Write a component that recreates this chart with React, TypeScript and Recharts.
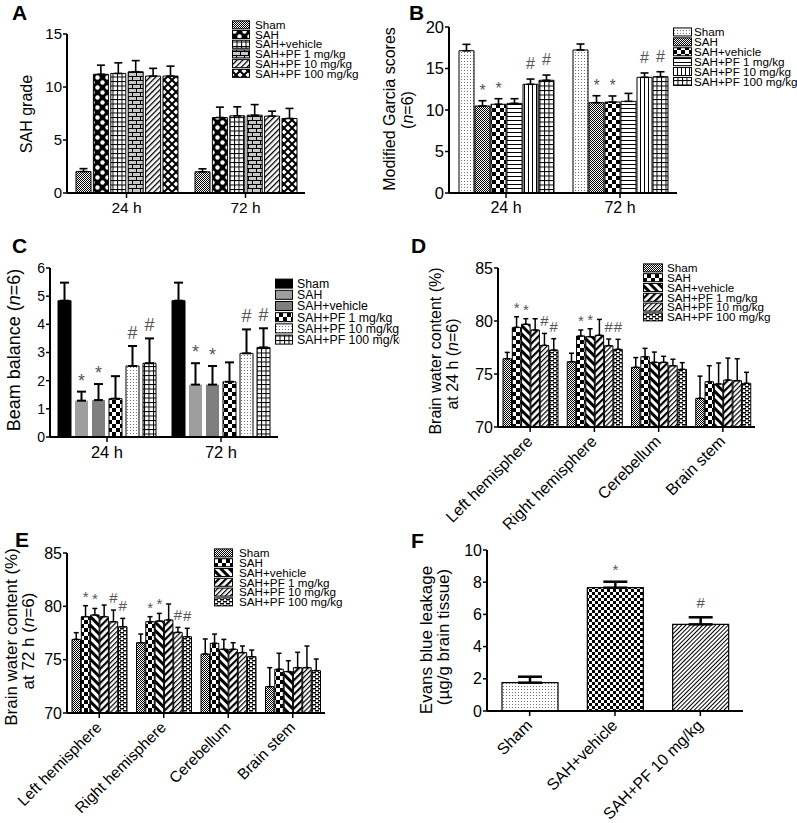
import React from 'react';
import { BarChart, Bar, XAxis, YAxis, ErrorBar, LabelList, Legend, Cell } from 'recharts';

const FONT = '"Liberation Sans", Arial, Helvetica, sans-serif';

// ---------- data ----------
const groupNames = ['Sham', 'SAH', 'SAH+vehicle', 'SAH+PF 1 mg/kg', 'SAH+PF 10 mg/kg', 'SAH+PF 100 mg/kg'];
const timeCats = ['24 h', '72 h'];
const regionCats = ['Left hemisphere', 'Right hemisphere', 'Cerebellum', 'Brain stem'];

const aTicks = [0, 5, 10, 15];
const aMean = [
  [2.02, 11.2, 11.28, 11.44, 11.03, 11.03],
  [2.0, 7.12, 7.28, 7.34, 7.25, 7.03],
];
const aErr = [
  [0.28, 0.86, 1.0, 1.05, 0.73, 0.94],
  [0.28, 0.98, 0.85, 1.0, 0.47, 0.95],
];

const bTicks = [0, 5, 10, 15, 20];
const bMean = [
  [17.14, 10.48, 10.69, 10.8, 13.1, 13.58],
  [17.23, 10.88, 10.96, 11.04, 13.94, 14.01],
];
const bErr = [
  [0.77, 0.64, 0.67, 0.56, 0.63, 0.63],
  [0.72, 0.84, 0.73, 0.96, 0.52, 0.6],
];
const bSig = [
  ['', '*', '*', '', '#', '#'],
  ['', '*', '*', '', '#', '#'],
];

const cTicks = [0, 1, 2, 3, 4, 5, 6];
const cMean = [
  [4.84, 1.29, 1.31, 1.36, 2.52, 2.62],
  [4.84, 1.86, 1.86, 1.96, 2.97, 3.18],
];
const cErr = [
  [0.64, 0.32, 0.57, 0.8, 0.71, 0.88],
  [0.64, 0.76, 0.66, 0.69, 0.85, 0.68],
];
const cSig = [
  ['', '*', '*', '', '#', '#'],
  ['', '*', '*', '', '#', '#'],
];

const wTicks = [70, 75, 80, 85];
const dMean = [
  [76.44, 79.4, 79.69, 79.15, 77.7, 77.26],
  [76.16, 78.58, 78.52, 78.65, 77.67, 77.33],
  [75.63, 76.63, 76.1, 76.1, 75.78, 75.44],
  [72.7, 74.27, 74.06, 74.43, 74.37, 74.12],
];
const dErr = [
  [0.6, 1.0, 0.53, 1.06, 1.13, 1.07],
  [0.8, 0.57, 0.75, 1.5, 0.63, 0.94],
  [0.92, 0.79, 0.97, 0.57, 0.61, 0.63],
  [2.1, 1.51, 1.98, 2.07, 2.07, 1.04],
];
const dSig = [
  ['', '*', '*', '', '#', '#'],
  ['', '*', '*', '', '#', '#'],
  ['', '', '', '', '', ''],
  ['', '', '', '', '', ''],
];

const eMean = [
  [76.9, 79.03, 79.19, 79.03, 78.56, 78.09],
  [76.59, 78.56, 78.62, 78.72, 77.56, 77.15],
  [75.53, 76.53, 75.97, 75.97, 75.66, 75.28],
  [72.47, 74.1, 73.88, 74.25, 74.25, 73.97],
];
const eErr = [
  [0.63, 1.03, 0.61, 1.09, 1.09, 0.78],
  [0.81, 0.47, 0.72, 1.5, 0.47, 0.79],
  [1.41, 0.87, 0.93, 0.62, 0.62, 0.62],
  [1.78, 1.5, 1.02, 1.44, 2.03, 1.09],
];
const eSig = [
  ['', '*', '*', '', '#', '#'],
  ['', '*', '*', '', '#', '#'],
  ['', '', '', '', '', ''],
  ['', '', '', '', '', ''],
];

const fCats = ['Sham', 'SAH+vehicle', 'SAH+PF 10 mg/kg'];
const fTicks = [0, 2, 4, 6, 8, 10];
const fMean = [1.76, 7.66, 5.38];
const fErr = [0.37, 0.37, 0.44];
const fSig = ['', '*', '#'];

// ---------- styles ----------
const aFills = ['url(#pStipple)', 'url(#pPolka)', 'url(#pGrid)', 'url(#pBrick)', 'url(#pHatch)', 'url(#pDiamond)'];
const bFills = ['url(#pDotsLight)', 'url(#pStipple)', 'url(#pCheck8)', 'url(#pHoriz)', 'url(#pVert)', 'url(#pGrid)'];
const cFills = ['#000', '#9e9e9e', '#7e7e7e', 'url(#pCheck8)', 'url(#pDotsLight)', 'url(#pGrid)'];
const cStrokes = ['#000', 'none', 'none', '#000', '#000', '#000'];
const wFills = ['url(#pStipple)', 'url(#pCheck8)', 'url(#pBackThick)', 'url(#pFwdThick)', 'url(#pFwdThin)', 'url(#pDash)'];
const fFills = ['url(#pDotsLight)', 'url(#pCheck6)', 'url(#pHatchFine)'];

type Marker = { fs: number; star: number; hash: number; color: string };

function buildRows(cats: string[], means: number[][], errs: number[][], sigs?: string[][]) {
  return cats.map((c, i) => {
    const r: any = { cat: c };
    means[i].forEach((m, j) => {
      r['v' + j] = m;
      r['e' + j] = [0, errs[i][j]];
      r['s' + j] = sigs ? sigs[i][j] : '';
    });
    return r;
  });
}

function sigContent(rows: any[], j: number, base: number, mk: Marker) {
  return (props: any) => {
    const idx = props.index;
    const row = rows[idx];
    if (!row) return null;
    const s = row['s' + j];
    if (!s) return null;
    const vb = props.viewBox || {};
    const x = vb.x ?? props.x;
    const y = vb.y ?? props.y;
    const w = vb.width ?? props.width;
    const h = vb.height ?? props.height;
    const v = row['v' + j];
    const e = row['e' + j][1];
    const px = h / (v - base);
    const top = y - e * px;
    return (
      <text x={x + w / 2} y={top - (s === '*' ? mk.star : mk.hash)} textAnchor="middle" fontSize={mk.fs} fill={mk.color} fontFamily={FONT}>
        {s}
      </text>
    );
  };
}

function LegendBlock(p: any) {
  const h = p.rowH * 6 + 4;
  return (
    <svg width={150} height={h} style={{ display: 'block', overflow: 'visible' }}>
      {groupNames.map((t, i) => {
        const cy = p.rowH * i + p.rowH / 2 + 1;
        return (
          <g key={i}>
            <rect x={0.5} y={cy - p.swH / 2} width={p.swW - 1} height={p.swH} fill={p.fills[i]} stroke="#000" strokeWidth={1} />
            <text x={p.swW + p.gap} y={cy + p.fs * 0.36} fontSize={p.fs} fontFamily={FONT} fill="#000">
              {t}
            </text>
          </g>
        );
      })}
    </svg>
  );
}

function RotTick(props: any) {
  const { x, y, payload, fs } = props;
  return (
    <text x={x} y={y} transform={`rotate(-45 ${x} ${y})`} textAnchor="end" fontSize={fs} fill="#000" fontFamily={FONT} dy={fs * 0.3}>
      {payload.value}
    </text>
  );
}

function GroupPanel(p: any) {
  const rows = buildRows(p.cats, p.means, p.errs, p.sigs);
  const axisLine = { stroke: '#000', strokeWidth: 2 };
  const tickLine = { stroke: '#000', strokeWidth: 1.5 };
  return (
    <div style={{ position: 'absolute', left: p.left, top: p.top, width: p.width, height: p.height, overflow: 'hidden' }}>
      <BarChart width={p.width} height={p.height} data={rows} margin={p.margin} barSize={p.barSize} barGap={p.barGap}>
        <XAxis
          dataKey="cat"
          interval={0}
          height={p.xHeight}
          axisLine={axisLine}
          tickLine={tickLine}
          tickSize={5}
          tickMargin={p.rot ? 7 : 4}
          tick={p.rot ? (tp: any) => <RotTick {...tp} fs={p.xFs} /> : { fontSize: p.xFs, fill: '#000', fontFamily: FONT }}
        />
        <YAxis
          type="number"
          width={p.yWidth}
          domain={p.domain}
          ticks={p.ticks}
          interval={0}
          axisLine={axisLine}
          tickLine={tickLine}
          tickSize={4}
          tickMargin={1}
          tick={{ fontSize: p.yFs, fill: '#000', fontFamily: FONT }}
        />
        <Legend
          layout="vertical"
          align="center"
          verticalAlign="middle"
          wrapperStyle={{ left: p.legend.left, top: p.legend.top, width: 150, height: p.legend.rowH * 6 + 4 }}
          content={() => <LegendBlock fills={p.fills} {...p.legend} />}
        />
        {p.fills.map((f: string, j: number) => (
          <Bar
            key={j}
            dataKey={'v' + j}
            name={groupNames[j]}
            fill={f}
            stroke={p.strokes ? p.strokes[j] : '#000'}
            strokeWidth={1}
            isAnimationActive={false}
          >
            <ErrorBar dataKey={'e' + j} width={p.cap} strokeWidth={p.errW} stroke="#000" direction="y" />
            {p.sigs ? <LabelList dataKey={'s' + j} content={sigContent(rows, j, p.domain[0], p.marker)} /> : null}
          </Bar>
        ))}
      </BarChart>
    </div>
  );
}

function PanelF() {
  const rows = fCats.map((c, i) => ({ cat: c, v0: fMean[i], e0: [0, fErr[i]], s0: fSig[i] }));
  const axisLine = { stroke: '#000', strokeWidth: 2 };
  const tickLine = { stroke: '#000', strokeWidth: 1.5 };
  const mk: Marker = { fs: 15, star: 7, hash: 9, color: '#555' };
  return (
    <div style={{ position: 'absolute', left: 400, top: 520, width: 397, height: 303, overflow: 'hidden' }}>
      <BarChart width={397} height={303} data={rows} margin={{ top: 30, right: 54, bottom: 12, left: 0 }} barSize={56}>
        <XAxis
          dataKey="cat"
          interval={0}
          height={100}
          axisLine={axisLine}
          tickLine={tickLine}
          tickSize={5}
          tickMargin={7}
          tick={(tp: any) => <RotTick {...tp} fs={16} />}
        />
        <YAxis
          type="number"
          width={87}
          domain={[0, 10]}
          ticks={fTicks}
          interval={0}
          axisLine={axisLine}
          tickLine={tickLine}
          tickSize={4}
          tickMargin={1}
          tick={{ fontSize: 16, fill: '#000', fontFamily: FONT }}
        />
        <Bar dataKey="v0" stroke="#000" strokeWidth={1.2} isAnimationActive={false}>
          {rows.map((r, i) => (
            <Cell key={i} fill={fFills[i]} />
          ))}
          <ErrorBar dataKey="e0" width={12} strokeWidth={2.5} stroke="#000" direction="y" />
          <LabelList dataKey="s0" content={sigContent(rows, 0, 0, mk)} />
        </Bar>
      </BarChart>
    </div>
  );
}

function Patterns() {
  return (
    <svg width={0} height={0} style={{ position: 'absolute', left: 0, top: 0 }}>
      <defs>
        <pattern id="pStipple" width="2" height="2" patternUnits="userSpaceOnUse">
          <rect width="2" height="2" fill="#fff" />
          <rect width="1" height="1" fill="#000" />
          <rect x="1" y="1" width="1" height="1" fill="#000" />
        </pattern>
        <pattern id="pDotsLight" width="3" height="3" patternUnits="userSpaceOnUse">
          <rect width="3" height="3" fill="#fff" />
          <rect x="1" y="1" width="1" height="1" fill="#777" />
        </pattern>
        <pattern id="pCheck8" width="8" height="8" patternUnits="userSpaceOnUse">
          <rect width="8" height="8" fill="#fff" />
          <rect width="4" height="4" fill="#000" />
          <rect x="4" y="4" width="4" height="4" fill="#000" />
        </pattern>
        <pattern id="pCheck6" width="6" height="6" patternUnits="userSpaceOnUse">
          <rect width="6" height="6" fill="#fff" />
          <rect width="3" height="3" fill="#000" />
          <rect x="3" y="3" width="3" height="3" fill="#000" />
        </pattern>
        <pattern id="pPolka" width="10" height="10" patternUnits="userSpaceOnUse">
          <rect width="10" height="10" fill="#000" />
          <circle cx="2.5" cy="2.5" r="2.2" fill="#fff" />
          <circle cx="7.5" cy="7.5" r="2.2" fill="#fff" />
        </pattern>
        <pattern id="pDiamond" width="8" height="8" patternUnits="userSpaceOnUse">
          <rect width="8" height="8" fill="#000" />
          <polygon points="4,1.4 6.6,4 4,6.6 1.4,4" fill="#fff" />
          <polygon points="0,-2.6 2.6,0 0,2.6 -2.6,0" fill="#fff" />
          <polygon points="8,-2.6 10.6,0 8,2.6 5.4,0" fill="#fff" />
          <polygon points="0,5.4 2.6,8 0,10.6 -2.6,8" fill="#fff" />
          <polygon points="8,5.4 10.6,8 8,10.6 5.4,8" fill="#fff" />
        </pattern>
        <pattern id="pGrid" width="4.5" height="4.5" patternUnits="userSpaceOnUse">
          <rect width="4.5" height="4.5" fill="#fff" />
          <rect width="4.5" height="1" fill="#000" />
          <rect width="1" height="4.5" fill="#000" />
        </pattern>
        <pattern id="pBrick" width="8" height="8" patternUnits="userSpaceOnUse">
          <rect width="8" height="8" fill="#c8c8c8" />
          <rect width="8" height="1" fill="#000" />
          <rect y="4" width="8" height="1" fill="#000" />
          <rect width="1" height="4" fill="#000" />
          <rect x="4" y="4" width="1" height="4" fill="#000" />
        </pattern>
        <pattern id="pHatch" width="4" height="4" patternUnits="userSpaceOnUse" patternTransform="rotate(45)">
          <rect width="4" height="4" fill="#fff" />
          <rect width="1.3" height="4" fill="#000" />
        </pattern>
        <pattern id="pHatchFine" width="3" height="3" patternUnits="userSpaceOnUse" patternTransform="rotate(45)">
          <rect width="3" height="3" fill="#fff" />
          <rect width="1" height="3" fill="#000" />
        </pattern>
        <pattern id="pHoriz" width="4" height="4" patternUnits="userSpaceOnUse">
          <rect width="4" height="4" fill="#fff" />
          <rect width="4" height="1" fill="#000" />
        </pattern>
        <pattern id="pVert" width="4" height="4" patternUnits="userSpaceOnUse">
          <rect width="4" height="4" fill="#fff" />
          <rect width="1" height="4" fill="#000" />
        </pattern>
        <pattern id="pBackThick" width="6" height="6" patternUnits="userSpaceOnUse" patternTransform="rotate(-45)">
          <rect width="6" height="6" fill="#fff" />
          <rect width="3" height="6" fill="#000" />
        </pattern>
        <pattern id="pFwdThick" width="5" height="5" patternUnits="userSpaceOnUse" patternTransform="rotate(45)">
          <rect width="5" height="5" fill="#fff" />
          <rect width="2.2" height="5" fill="#000" />
        </pattern>
        <pattern id="pFwdThin" width="3.5" height="3.5" patternUnits="userSpaceOnUse" patternTransform="rotate(45)">
          <rect width="3.5" height="3.5" fill="#fff" />
          <rect width="1.2" height="3.5" fill="#000" />
        </pattern>
        <pattern id="pDash" width="6" height="4" patternUnits="userSpaceOnUse">
          <rect width="6" height="4" fill="#fff" />
          <rect width="4" height="1.5" fill="#000" />
          <rect x="3" y="2" width="3" height="1.5" fill="#000" />
          <rect x="0" y="2" width="1" height="1.5" fill="#000" />
        </pattern>
      </defs>
    </svg>
  );
}

function Titles() {
  const rot = (x: number, y: number) => `translate(${x},${y}) rotate(-90)`;
  return (
    <svg width={797} height={823} style={{ position: 'absolute', left: 0, top: 0, pointerEvents: 'none' }} fontFamily={FONT} fill="#000">
      <text x={12} y={20} fontSize={21} fontWeight="bold">A</text>
      <text x={409} y={20} fontSize={21} fontWeight="bold">B</text>
      <text x={12} y={253} fontSize={21} fontWeight="bold">C</text>
      <text x={411} y={253} fontSize={21} fontWeight="bold">D</text>
      <text x={15} y={547} fontSize={21} fontWeight="bold">E</text>
      <text x={411} y={548} fontSize={21} fontWeight="bold">F</text>

      <text transform={rot(32, 114)} textAnchor="middle" fontSize={16}>SAH grade</text>

      <text transform={rot(395, 109)} textAnchor="middle" fontSize={16}>Modified Garcia scores</text>
      <text transform={rot(413, 110)} textAnchor="middle" fontSize={16}>
        (<tspan fontStyle="italic">n</tspan>=6)
      </text>

      <text transform={rot(20, 350)} textAnchor="middle" fontSize={18}>
        Beam balance (<tspan fontStyle="italic">n</tspan>=6)
      </text>

      <text transform={rot(441, 351)} textAnchor="middle" fontSize={16}>Brain water content (%)</text>
      <text transform={rot(458, 364)} textAnchor="middle" fontSize={16}>
        at 24 h (<tspan fontStyle="italic">n</tspan>=6)
      </text>

      <text transform={rot(17, 637)} textAnchor="middle" fontSize={17}>Brain water content (%)</text>
      <text transform={rot(34, 641)} textAnchor="middle" fontSize={17}>
        at 72 h (<tspan fontStyle="italic">n</tspan>=6)
      </text>

      <text transform={rot(432, 640)} textAnchor="middle" fontSize={17}>Evans blue leakage</text>
      <text transform={rot(449, 637)} textAnchor="middle" fontSize={17}>(µg/g brain tissue)</text>
    </svg>
  );
}

export default function App() {
  return (
    <div style={{ position: 'absolute', left: 0, top: 0, width: 797, height: 823, overflow: 'hidden', background: '#fff' }}>
      <Patterns />
      <GroupPanel
        left={0} top={0} width={400} height={240}
        margin={{ top: 34, right: 95, bottom: 17, left: 0 }}
        yWidth={67} xHeight={30}
        cats={timeCats} means={aMean} errs={aErr}
        domain={[0, 15]} ticks={aTicks}
        fills={aFills} barSize={15} barGap={2.4}
        xFs={15.5} yFs={15} cap={4} errW={1.6}
        legend={{ left: 232, top: 19, fs: 11.7, rowH: 9.7, swW: 18, swH: 8, gap: 5 }}
      />
      <GroupPanel
        left={400} top={0} width={397} height={240}
        margin={{ top: 27, right: 120, bottom: 17, left: 0 }}
        yWidth={49} xHeight={30}
        cats={timeCats} means={bMean} errs={bErr} sigs={bSig}
        domain={[0, 20]} ticks={bTicks}
        fills={bFills} barSize={15} barGap={1}
        xFs={16} yFs={16.5} cap={4} errW={1.6}
        marker={{ fs: 16, star: 5, hash: 10, color: '#555' }}
        legend={{ left: 273, top: 26, fs: 11.7, rowH: 9.9, swW: 19, swH: 8, gap: 2 }}
      />
      <GroupPanel
        left={0} top={240} width={400} height={280}
        margin={{ top: 28, right: 122, bottom: 53, left: 0 }}
        yWidth={50} xHeight={30}
        cats={timeCats} means={cMean} errs={cErr} sigs={cSig}
        domain={[0, 6]} ticks={cTicks}
        fills={cFills} strokes={cStrokes} barSize={13} barGap={4}
        xFs={16.5} yFs={14} cap={4.5} errW={2}
        marker={{ fs: 18, star: 5, hash: 7, color: '#555' }}
        legend={{ left: 275, top: 37, fs: 12.3, rowH: 11.2, swW: 18, swH: 9, gap: 4 }}
      />
      <GroupPanel
        left={400} top={240} width={397} height={300}
        margin={{ top: 28, right: 42, bottom: 13, left: 0 }}
        yWidth={98} xHeight={100} rot
        cats={regionCats} means={dMean} errs={dErr} sigs={dSig}
        domain={[70, 85]} ticks={wTicks}
        fills={wFills} barSize={8.5} barGap={0.8}
        xFs={16} yFs={16} cap={2.5} errW={1.5}
        marker={{ fs: 15, star: 4, hash: 7, color: '#555' }}
        legend={{ left: 243, top: 22, fs: 11.7, rowH: 9.8, swW: 20, swH: 8, gap: 4 }}
      />
      <GroupPanel
        left={0} top={520} width={400} height={303}
        margin={{ top: 33, right: 75, bottom: 10, left: 0 }}
        yWidth={67} xHeight={100} rot
        cats={regionCats} means={eMean} errs={eErr} sigs={eSig}
        domain={[70, 85]} ticks={wTicks}
        fills={wFills} barSize={8.5} barGap={0.8}
        xFs={15.5} yFs={16} cap={2.5} errW={1.5}
        marker={{ fs: 15, star: 4, hash: 7, color: '#555' }}
        legend={{ left: 214, top: 27, fs: 11.7, rowH: 9.8, swW: 19, swH: 8, gap: 6 }}
      />
      <PanelF />
      <Titles />
    </div>
  );
}
